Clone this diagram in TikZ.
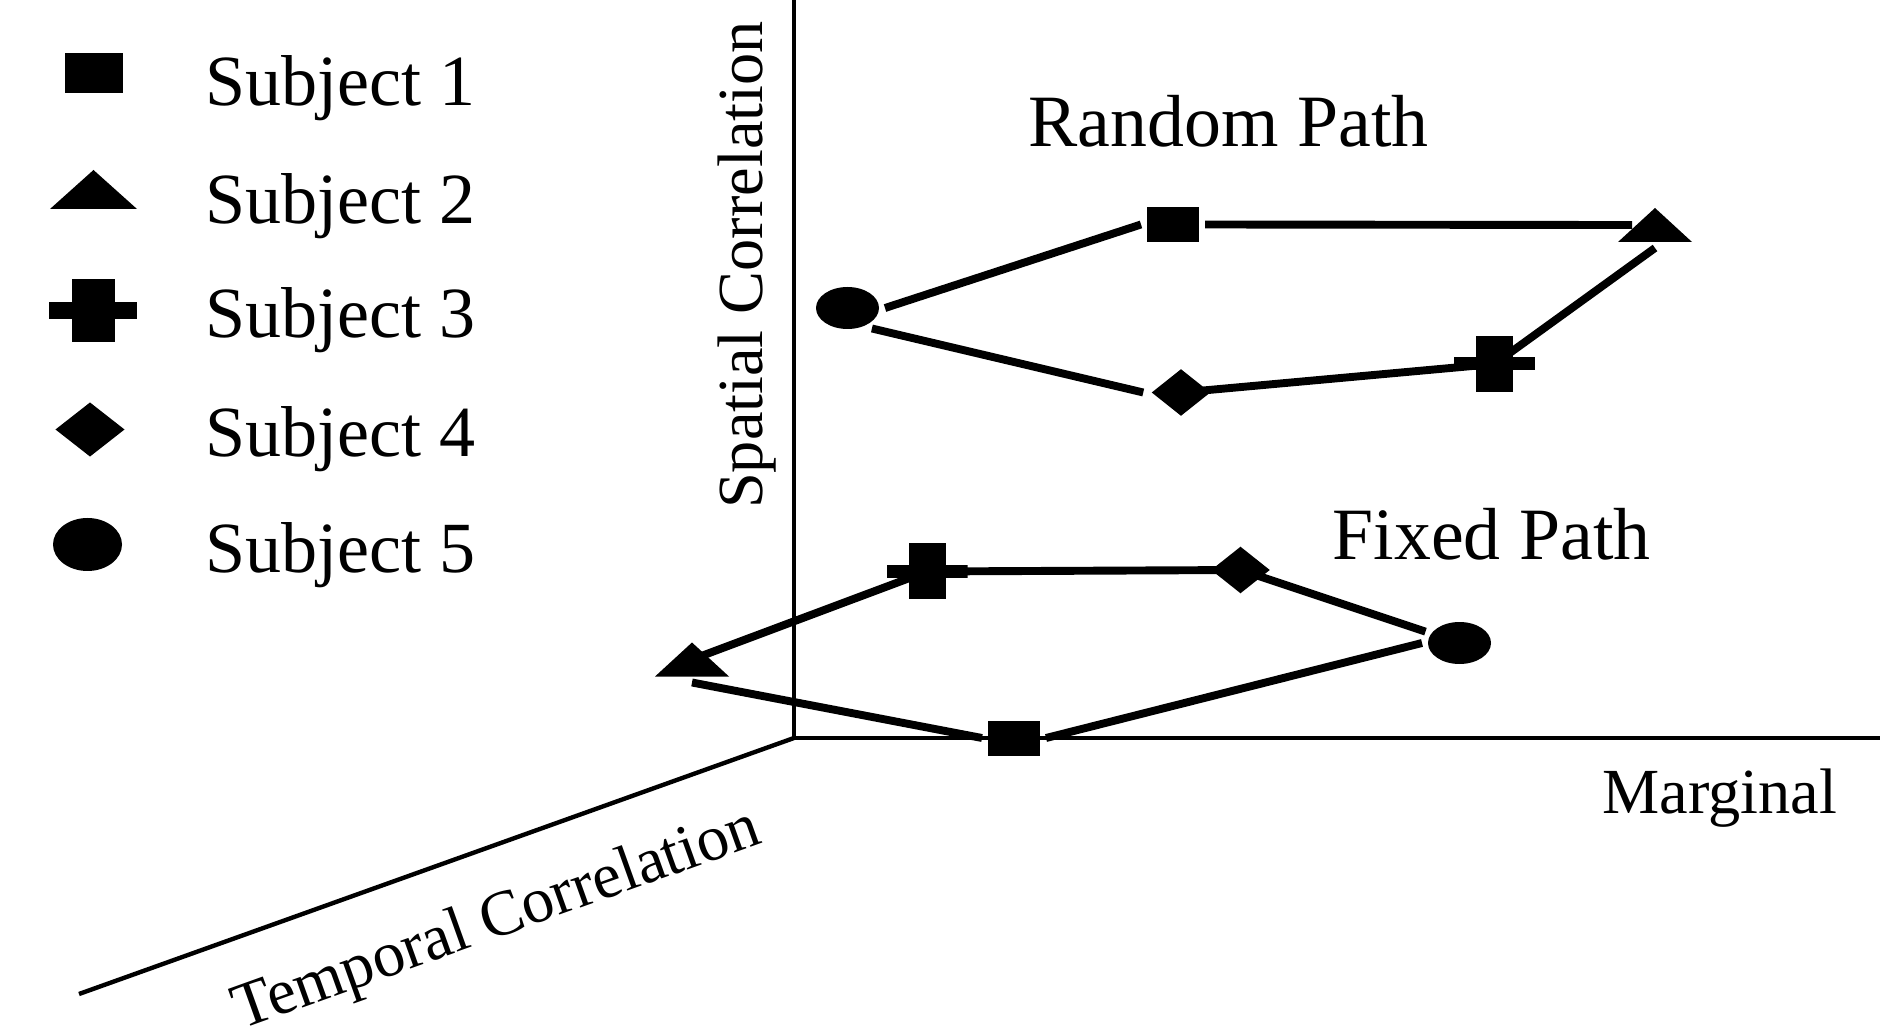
\documentclass[tikz,border=0pt]{standalone}
\usepackage{fontspec}
\setmainfont{Liberation Serif}
\usetikzlibrary{shapes.geometric,backgrounds}
\newcommand\legfont{\fontsize{20.5pt}{24pt}\selectfont}
\newcommand\labfont{\fontsize{21pt}{25pt}\selectfont}
\newcommand\axfont{\fontsize{18.3pt}{22pt}\selectfont}
\tikzset{
  markerbase/.style={fill=black, draw=none, inner sep=0pt, outer sep=0.6mm},
  sqmark/.style 2 args={markerbase, rectangle, minimum width=#1, minimum height=#2},
  ellmark/.style 2 args={markerbase, ellipse, minimum width=#1, minimum height=#2},
  diamark/.style 2 args={markerbase, diamond, minimum width=#1, minimum height=#2},
  trimark/.style 2 args={markerbase, fill=none, rectangle, minimum width=#1, minimum height=#2,
    path picture={\fill (path picture bounding box.south west) -- (path picture bounding box.north)
      -- (path picture bounding box.south east) -- cycle;}},
  plusmark/.style n args={4}{markerbase, fill=none, rectangle, minimum width=#1, minimum height=#2,
    path picture={
      \fill ([xshift=-#3/2]path picture bounding box.north) rectangle ([xshift=#3/2]path picture bounding box.south);
      \fill ([yshift=-#4/2]path picture bounding box.west) rectangle ([yshift=#4/2]path picture bounding box.east);}},
  % plot-sized markers
  sqp/.style={sqmark={5.2mm}{3.5mm}},
  trip/.style={trimark={7.4mm}{3.4mm}},
  plusp/.style={plusmark={8.1mm}{5.6mm}{3.7mm}{1.3mm}},
  diap/.style={diamark={6.35mm}{5.15mm}},
  ellp/.style={ellmark={6.3mm}{4.2mm}},
  axisline/.style={line width=1.25pt},
  pathline/.style={line width=2.25pt},
  legtext/.style={anchor=base west, inner sep=0pt, font=\legfont},
  labtext/.style={anchor=base west, inner sep=0pt, font=\labfont},
  axtext/.style={inner sep=0pt, font=\axfont},
}
\begin{document}
\begin{tikzpicture}[x=0.1mm, y=-0.1mm]
\useasboundingbox (0,0) rectangle (1880,1030);

% legend
\node[sqmark={5.8mm}{4.0mm}] (L1) at (94,73) {};
\node[trimark={8.7mm}{3.9mm}] (L2) at (93.5,189.5) {};
\node[plusmark={8.8mm}{6.3mm}{4.3mm}{1.7mm}] (L3) at (93,310.5) {};
\node[diamark={7.4mm}{5.9mm}] (L4) at (90,429.5) {};
\node[ellmark={6.9mm}{5.3mm}] (L5) at (87.5,544.5) {};
\node[legtext] (T1) at (205,106) {Subject 1};
\node[legtext] (T2) at (205,224) {Subject 2};
\node[legtext] (T3) at (205,338) {Subject 3};
\node[legtext] (T4) at (205,456.5) {Subject 4};
\node[legtext] (T5) at (205,572.5) {Subject 5};

% random path markers
\node[sqp]   (R1) at (1173,224.5) {};
\node[trip]  (R2) at (1655,225) {};
\node[plusp] (R3) at (1494.5,364) {};
\node[diap]  (R4) at (1181,392.5) {};
\node[ellp]  (R5) at (847.5,308) {};

% fixed path markers
\node[sqp]   (F1) at (1014,738) {};
\node[trip]  (F2) at (692,659.5) {};
\node[plusp] (F3) at (927,571.5) {};
\node[diap]  (F4) at (1240.5,570) {};
\node[ellp]  (F5) at (1459.5,643) {};

% labels
\node[labtext] (RP) at (1028,147) {Random Path};
\node[labtext] (FP) at (1332,560) {Fixed Path};
\node[axtext, anchor=base west] (MG) at (1602,813) {Marginal};
\node[axtext, rotate=90, anchor=base] (SC) at (762,265) {Spatial Correlation};
\node[axtext, rotate=19.7, anchor=base] (TC) at (503,936) {Temporal Correlation};

\begin{scope}[on background layer]
  % axes
  \coordinate (O) at (794,738);
  \coordinate (Ztop) at (794,0);
  \coordinate (Xend) at (1880,738);
  \coordinate (Tend) at (79,994);
  \draw[axisline] (Ztop) -- (O) -- (Xend);
  \draw[axisline] (O) -- (Tend);

  % random path loop
  \draw[pathline] (R5.east) -- (R1.west);
  \draw[pathline, shorten >=-2mm] (R1.east) -- (R2.west);
  \draw[pathline] (R2.south) -- (R3.center);
  \draw[pathline] (R3.center) -- (R4.center);
  \draw[pathline] (R4.west) -- (R5.-40);

  % fixed path loop
  \draw[pathline] (F1.west) -- (F2.south);
  \draw[pathline] (F2.center) -- (F3.center);
  \draw[pathline] (F3.center) -- (F4.center);
  \draw[pathline] (F4.center) -- (F5);
  \draw[pathline] (F5.west) -- (F1.east);
\end{scope}
\end{tikzpicture}
\end{document}
